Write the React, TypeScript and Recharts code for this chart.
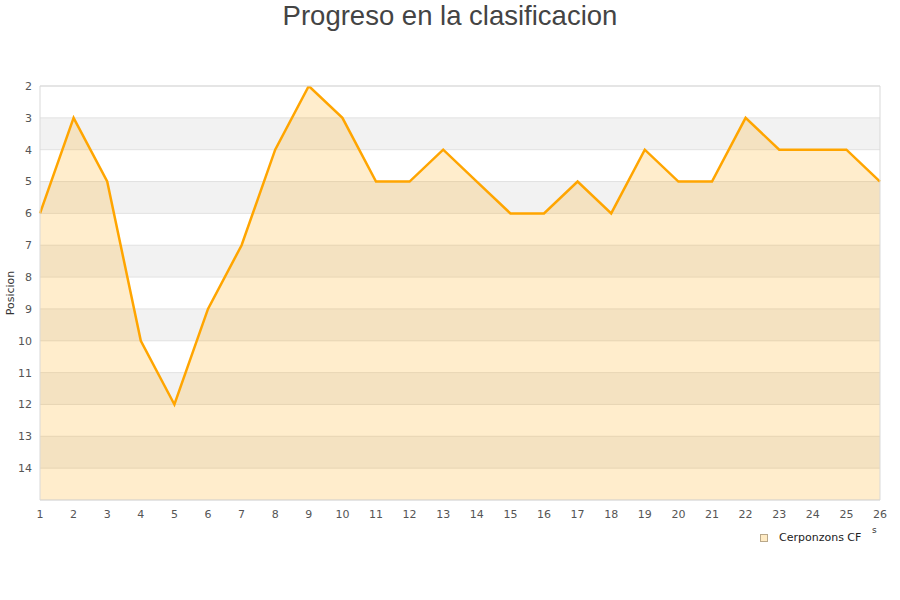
import React from 'react';
import { AreaChart, Area, XAxis, YAxis, CartesianGrid, Legend, Label, ReferenceArea } from 'recharts';

const jornadas = [1, 2, 3, 4, 5, 6, 7, 8, 9, 10, 11, 12, 13, 14, 15, 16, 17, 18, 19, 20, 21, 22, 23, 24, 25, 26];
const posiciones = [6, 3, 5, 10, 12, 9, 7, 4, 2, 3, 5, 5, 4, 5, 6, 6, 5, 6, 4, 5, 5, 3, 4, 4, 4, 5];
const yTicks = [2, 3, 4, 5, 6, 7, 8, 9, 10, 11, 12, 13, 14];
const equipo = 'Cerponzons CF';
const titulo = 'Progreso en la clasificacion';
const ejeY = 'Posicion';

const data = jornadas.map((j, i) => ({ jornada: j, pos: posiciones[i] }));

const FONT = '"DejaVu Sans", Verdana, sans-serif';
const ORANGE = '#FFA500';

const LegendContent = () => (
  <div style={{ display: 'flex', alignItems: 'center', fontFamily: FONT, fontSize: 11, color: '#222', whiteSpace: 'nowrap' }}>
    <span style={{ display: 'inline-block', width: 6, height: 6, background: '#FFEBC4', border: '1px solid #b9a88a', marginRight: 11 }} />
    <span>{equipo}</span>
  </div>
);

export default function App() {
  return (
    <div style={{ position: 'absolute', left: 0, top: 0, width: 900, height: 600, background: '#fff' }}>
      <div style={{ position: 'absolute', left: 0, top: 1, width: 900, textAlign: 'center', fontFamily: '"Liberation Sans", Arial, sans-serif', fontSize: 27.5, lineHeight: '30px', color: '#444' }}>
        {titulo}
      </div>
      <AreaChart width={900} height={600} data={data} margin={{ top: 86, right: 20, bottom: 70, left: 0 }}>
        <CartesianGrid vertical={false} stroke="#e2e2e2" horizontalFill={['#ffffff', '#f2f2f2']} fillOpacity={1} />
        <XAxis
          dataKey="jornada"
          type="number"
          domain={[1, 26]}
          ticks={jornadas}
          interval={0}
          height={30}
          tickLine={false}
          tickSize={0}
          tickMargin={10}
          axisLine={false}
          tick={{ fill: '#555', fontSize: 11, fontFamily: FONT }}
        />
        <YAxis
          type="number"
          domain={[2, 15]}
          reversed
          ticks={yTicks}
          interval={0}
          width={40}
          tickLine={false}
          tickSize={0}
          tickMargin={8}
          axisLine={false}
          allowDataOverflow
          tick={{ fill: '#555', fontSize: 11, fontFamily: FONT }}
        >
          <Label
            content={() => (
              <text x={14} y={293} transform="rotate(-90 14 293)" textAnchor="middle" fontSize={11} fontFamily={FONT} fill="#333">
                {ejeY}
              </text>
            )}
          />
        </YAxis>
        <Area
          type="linear"
          dataKey="pos"
          name={equipo}
          baseValue={15}
          stroke={ORANGE}
          strokeWidth={2.5}
          fill={ORANGE}
          fillOpacity={0.2}
          dot={false}
          activeDot={false}
          isAnimationActive={false}
        />
        <ReferenceArea x1={1} x2={26} y1={2} y2={15} fill="none" stroke="#d9d9d9" strokeWidth={1} ifOverflow="visible" />
        <Legend
          layout="vertical"
          align="center"
          verticalAlign="middle"
          content={<LegendContent />}
          wrapperStyle={{ position: 'absolute', left: 760, top: 531, width: 'auto' }}
        />
      </AreaChart>
      <div style={{ position: 'absolute', left: 872, top: 525, fontFamily: FONT, fontSize: 9, color: '#333' }}>s</div>
    </div>
  );
}
